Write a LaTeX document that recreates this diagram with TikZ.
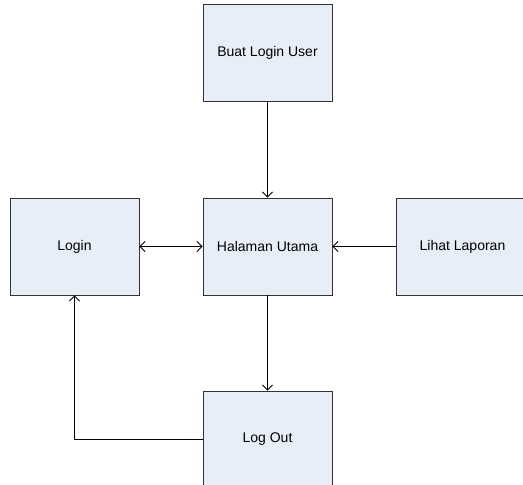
\documentclass[tikz,border=0pt]{standalone}
\usepackage{fontspec}
\setmainfont{Liberation Sans}
\usetikzlibrary{arrows.meta,shadows}
\definecolor{boxfill}{HTML}{E8EEF8}
\definecolor{boxline}{HTML}{333333}
\begin{document}
\begin{tikzpicture}[x=1bp,y=-1bp,
  menubox/.style={draw=boxline, line width=0.9bp, fill=boxfill,
    minimum width=129bp, minimum height=97bp, inner sep=0pt,
    font=\fontsize{14bp}{16bp}\selectfont,
    drop shadow={shadow xshift=1bp, shadow yshift=-1bp, fill=gray!60, opacity=1}},
  link/.style={draw=black, line width=0.8bp, -{Straight Barb[length=5bp,width=10bp]}}]
  \useasboundingbox (0,0) rectangle (523,485);
  \fill[white] (0,0) rectangle (523,485);

  \node[menubox] (buat)    at (267.5,53)    {Buat Login User};
  \node[menubox] (login)   at (74.5,246.5)  {Login};
  \node[menubox] (halaman) at (267.5,246.5) {Halaman Utama};
  \node[menubox, minimum width=133bp] (lihat) at (462.5,246.5) {Lihat Laporan};
  \node[menubox] (logout)  at (267.5,439.5) {Log Out};

  \draw[link] (buat) -- (halaman);
  \draw[link, {Straight Barb[length=5bp,width=10bp]}-{Straight Barb[length=5bp,width=10bp]}] (login) -- (halaman);
  \draw[link] (lihat) -- (halaman);
  \draw[link] (halaman) -- (logout);
  \draw[link] (logout.west) -| (login.south);
\end{tikzpicture}
\end{document}
